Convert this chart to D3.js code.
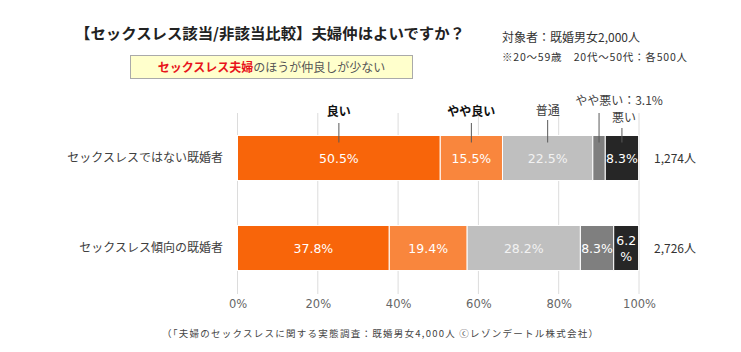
<!DOCTYPE html>
<html><head><meta charset="utf-8">
<script src="https://cdn.jsdelivr.net/npm/d3@7"></script>
<style>
body{margin:0;background:#fff;}
svg{font-family:"Noto Sans CJK JP","Noto Sans",sans-serif;}
</style></head>
<body><svg id="c" width="741" height="352"></svg>
<script>
const categories = ["セックスレスではない既婚者", "セックスレス傾向の既婚者"];
const seriesNames = ["良い", "やや良い", "普通", "やや悪い", "悪い"];
const notSexless = [50.5, 15.5, 22.5, 3.1, 8.3];
const sexless = [37.8, 19.4, 28.2, 8.3, 6.2];
const counts = ["1,274人", "2,726人"];
const tickValues = [0, 20, 40, 60, 80, 100];
const colors = ["#F8650A", "#F9863D", "#BFBFBF", "#7F7F7F", "#262626"];

const svg = d3.select("#c");
const x = d3.scaleLinear().domain([0, 100]).range([237.5, 639]);
const y = d3.scaleBand().domain(categories).range([113, 293]).paddingInner(0.5).paddingOuter(0.25);

// title
svg.append("text").attr("x", 75).attr("y", 39).attr("font-size", 15).attr("font-weight", "bold").attr("fill", "#222")
  .attr("textLength", 390).attr("lengthAdjust", "spacingAndGlyphs")
  .text("【セックスレス該当/非該当比較】夫婦仲はよいですか？");
svg.append("rect").attr("x", 130.5).attr("y", 55.5).attr("width", 282).attr("height", 23).attr("fill", "#FFFFCC").attr("stroke", "#AAAAAA");
const sub = svg.append("text").attr("x", 271.5).attr("y", 71.5).attr("text-anchor", "middle").attr("font-size", 12);
sub.append("tspan").attr("fill", "#E8141B").attr("font-weight", "bold").text("セックスレス夫婦");
sub.append("tspan").attr("fill", "#555").text("のほうが仲良しが少ない");
svg.append("text").attr("x", 502).attr("y", 41.5).attr("font-size", 12).attr("fill", "#333").text("対象者：既婚男女2,000人");
svg.append("text").attr("x", 502).attr("y", 61).attr("font-size", 10.5).attr("fill", "#333")
  .attr("textLength", 185).attr("lengthAdjust", "spacing")
  .text("※20～59歳　20代～50代：各500人");

// grid
svg.append("g").selectAll("line").data(tickValues).join("line")
  .attr("x1", d => x(d)).attr("x2", d => x(d)).attr("y1", 113).attr("y2", 294)
  .attr("stroke", "#DCDCDC").attr("stroke-width", 1);

// axis
const axis = svg.append("g").attr("transform", "translate(0,294)")
  .call(d3.axisBottom(x).tickValues(tickValues).tickFormat(d => d + "%").tickSize(0).tickPadding(6));
axis.select(".domain").remove();
axis.selectAll("text").attr("font-size", 11.5).attr("fill", "#666").attr("font-family", "\"DejaVu Sans\",sans-serif");

const rows = [notSexless, sexless];
rows.forEach((vals, ri) => {
  let cum = 0;
  const segs = vals.map((v, i) => { const s = {v, i, x0: cum, x1: cum + v}; cum += v; return s; });
  const g = svg.append("g");
  g.selectAll("rect").data(segs).join("rect")
    .attr("x", d => x(d.x0)).attr("width", d => x(d.x1) - x(d.x0))
    .attr("y", y(categories[ri])).attr("height", y.bandwidth())
    .attr("fill", d => colors[d.i]).attr("stroke", "#fff").attr("stroke-width", 1);
  const cy = y(categories[ri]) + y.bandwidth() / 2;
  segs.forEach(d => {
    if (ri === 0 && d.i === 3) return;
    const w = x(d.x1) - x(d.x0);
    const cx = (x(d.x0) + x(d.x1)) / 2;
    const t = g.append("text").attr("x", cx).attr("y", cy + 4.5).attr("text-anchor", "middle")
      .attr("font-size", 12.5).attr("fill", d.i === 2 ? "#F2F2F2" : "#fff").attr("font-family", "\"DejaVu Sans\",sans-serif")
      .text(d.v.toFixed(1) + "%");
    if (t.node().getComputedTextLength() > w + 4) {
      t.text(null).attr("y", cy - 3);
      t.append("tspan").attr("x", cx).text(d.v.toFixed(1));
      t.append("tspan").attr("x", cx).attr("dy", 16).text("%");
    }
  });
  svg.append("text").attr("x", 223).attr("y", cy + 4).attr("text-anchor", "end").attr("font-size", 12).attr("fill", "#404040")
    .text(categories[ri]);
  svg.append("text").attr("x", 654).attr("y", cy + 4.5).attr("font-size", 12).attr("fill", "#333").text(counts[ri]);
});

// series labels with leader lines above first bar
const labelSpec = [
  {ty: 116, ly: 123, bold: true, text: seriesNames[0]},
  {ty: 116, ly: 123, bold: true, text: seriesNames[1]},
  {ty: 115, ly: 120, bold: false, text: seriesNames[2]},
  {ty: 105, ly: 113, bold: false, text: seriesNames[3] + "：" + notSexless[3] + "%", dx: 20},
  {ty: 122, ly: 128, bold: false, text: seriesNames[4], dx: 2}
];
let c0 = 0;
notSexless.forEach((v, i) => {
  const cx = x(c0 + v / 2); c0 += v;
  const s = labelSpec[i];
  svg.append("line").attr("x1", cx).attr("x2", cx).attr("y1", s.ly).attr("y2", y(categories[0]) + 7)
    .attr("stroke", "#595959").attr("stroke-width", 1);
  svg.append("text").attr("x", cx + (s.dx || 0)).attr("y", s.ty).attr("text-anchor", "middle")
    .attr("font-size", 12).attr("font-weight", s.bold ? "bold" : "normal").attr("fill", s.bold ? "#111" : "#404040")
    .text(s.text);
});

svg.append("text").attr("x", 162).attr("y", 337).attr("font-size", 9.5).attr("fill", "#444")
  .attr("textLength", 436).attr("lengthAdjust", "spacing")
  .text("（「夫婦のセックスレスに関する実態調査：既婚男女4,000人 ⓒレゾンデートル株式会社）");
</script></body></html>
